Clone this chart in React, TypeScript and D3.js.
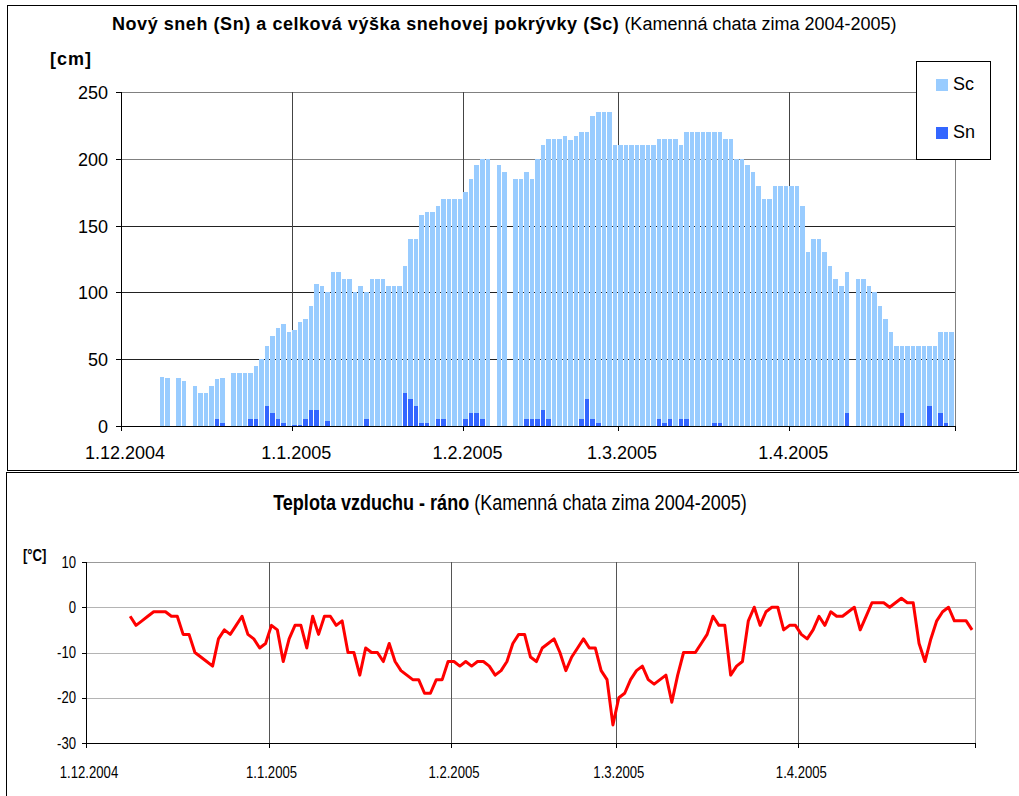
import React from 'react';
import * as d3 from 'd3';

// Kamenná chata, winter 2004-2005. One value per day, index 0 = 1st of the month.
// null = no observation that day.

// total snow depth Sc [cm]
const snowDepthDec = [null, null, null, null, null, null, null, 37, 36, null, 36, 34, null, 30, 25, 25, 30, 35, 36, null, 40, 40, 40, 40, 45, 50, 60, 67, 73, 76, 70];
const snowDepthJan = [72, 78, 80, 90, 106, 105, 100, 115, 115, 110, 110, 100, 105, 100, 110, 110, 110, 105, 105, 105, 120, 140, 140, 158, 160, 160, 165, 170, 170, 170, 170];
const snowDepthFeb = [175, 185, 195, 200, 200, null, 195, 190, null, 185, 185, 190, 185, 200, 210, 215, 215, 215, 217, 214, 217, 220, 220, 232, 235, 235, 235, 210];
const snowDepthMar = [210, 210, 210, 210, 210, 210, 210, 215, 215, 215, 215, 210, 220, 220, 220, 220, 220, 220, 220, 215, 215, 200, 200, 195, 190, 180, 170, 170, 180, 180, 180];
const snowDepthApr = [180, 180, 165, 130, 140, 140, 130, 120, 110, 105, 115, null, 110, 110, 105, 100, 90, 80, 70, 60, 60, 60, 60, 60, 60, 60, 60, 70, 70, 70];

// new snow Sn [cm]
const newSnowDec = [0, 0, 0, 0, 0, 0, 0, 0, 0, 0, 0, 0, 0, 0, 0, 0, 0, 5, 2, 0, 0, 0, 0, 5, 5, 0, 15, 10, 5, 2, 0];
const newSnowJan = [1, 1, 5, 12, 12, 0, 4, 0, 0, 0, 0, 0, 0, 5, 0, 0, 0, 0, 0, 0, 25, 20, 15, 2, 2, 0, 5, 5, 0, 0, 0];
const newSnowFeb = [5, 10, 10, 5, 0, 0, 0, 0, 0, 0, 0, 5, 5, 5, 12, 5, 0, 0, 0, 0, 0, 5, 20, 5, 2, 0, 0, 0];
const newSnowMar = [0, 0, 0, 0, 0, 0, 0, 5, 2, 5, 0, 5, 5, 0, 0, 0, 0, 2, 2, 0, 0, 0, 0, 0, 0, 0, 0, 0, 0, 0, 0];
const newSnowApr = [0, 0, 0, 0, 0, 0, 0, 0, 0, 0, 10, 0, 0, 0, 0, 0, 0, 0, 0, 0, 10, 0, 0, 0, 0, 15, 0, 10, 2, 0];

// morning air temperature [°C]
const tempDec = [null, null, null, null, null, null, null, -2, -4, -3, -2, -1, -1, -1, -2, -2, -6, -6, -10, -11, -12, -13, -7, -5, -6, -4, -2, -6, -7, -9, -8];
const tempJan = [-4, -5, -12, -7, -4, -4, -9, -2, -6, -2, -2, -4, -3, -10, -10, -15, -9, -10, -10, -12, -8, -12, -14, -15, -16, -16, -19, -19, -16, -16, -12];
const tempFeb = [-12, -13, -12, -13, -12, -12, -13, -15, -14, -12, -8, -6, -6, -11, -12, -9, -8, -7, -10, -14, -11, -9, -7, -9, -9, -14, -16, -26];
const tempMar = [-20, -19, -16, -14, -13, -16, -17, -16, -15, -21, -15, -10, -10, -10, -8, -6, -2, -4, -4, -15, -13, -12, -3, 0, -4, -1, 0, 0, -5, -4, -4];
const tempApr = [-6, -7, -5, -2, -4, -1, -2, -2, -1, 0, -5, -2, 1, 1, 1, 0, 1, 2, 1, 1, -8, -12, -7, -3, -1, 0, -3, -3, -3, -5];

const seriesNames = ['Sc', 'Sn'];
const colors = { Sc: '#99CCFF', Sn: '#3366FF', temp: '#FF0000' };

const start = new Date(Date.UTC(2004, 11, 1));
const end = new Date(Date.UTC(2005, 4, 1));
const days = d3.utcDay.range(start, end);
const monthTicks = d3.utcMonth.range(start, d3.utcDay.offset(end, 1));
const fmtDate = (d: Date) => `${d.getUTCDate()}.${d.getUTCMonth() + 1}.${d.getUTCFullYear()}`;

const snowDepth: (number | null)[] = [...snowDepthDec, ...snowDepthJan, ...snowDepthFeb, ...snowDepthMar, ...snowDepthApr];
const newSnow: number[] = [...newSnowDec, ...newSnowJan, ...newSnowFeb, ...newSnowMar, ...newSnowApr];
const temp: (number | null)[] = [...tempDec, ...tempJan, ...tempFeb, ...tempMar, ...tempApr];

const FONT = "'Liberation Sans', Arial, sans-serif";
const crisp = (v: number) => Math.round(v) + 0.5;

// ---------- top chart: snow ----------
const SnowChart = () => {
  const left = 121, right = 955, top = 92, bottom = 426;
  const x = d3.scaleUtc().domain([start, end]).range([left, right]);
  const y = d3.scaleLinear().domain([0, 250]).range([bottom, top]);

  // bars start on the day boundary (covering the month gridline), 1px gap on the right
  const bar = (i: number, v: number, fill: string) => {
    const x0 = Math.round(x(days[i]));
    const x1 = Math.round(x(d3.utcDay.offset(days[i], 1))) - 1;
    const y0 = Math.round(y(v));
    return <rect key={`${fill}-${i}`} x={x0} y={y0} width={x1 - x0} height={Math.round(y(0)) - y0} fill={fill} shapeRendering="crispEdges" />;
  };

  return (
    <g fontFamily={FONT}>
      <rect x={7.5} y={5.5} width={1009} height={465} fill="#fff" stroke="#000" />
      <text x={112} y={30} fontSize={18}>
        <tspan fontWeight="bold" letterSpacing={0.55}>Nový sneh (Sn) a celková výška snehovej pokrývky (Sc)</tspan>
        <tspan> (Kamenná chata zima 2004-2005)</tspan>
      </text>
      <text x={50} y={65} fontSize={18} fontWeight="bold" letterSpacing={1}>[cm]</text>

      {y.ticks(5).filter(t => t > 0).map(t => (
        <line key={t} x1={left} x2={right} y1={crisp(y(t))} y2={crisp(y(t))} stroke={t >= 200 ? '#808080' : '#222'} />
      ))}
      {monthTicks.slice(1, -1).map(d => (
        <line key={+d} x1={crisp(x(d))} x2={crisp(x(d))} y1={top} y2={bottom} stroke="#444" />
      ))}
      <line x1={crisp(right)} x2={crisp(right)} y1={top} y2={bottom} stroke="#808080" />

      {snowDepth.map((v, i) => (v != null ? bar(i, v, colors.Sc) : null))}
      {newSnow.map((v, i) => (v > 0 ? bar(i, v, colors.Sn) : null))}

      <line x1={crisp(left)} x2={crisp(left)} y1={top} y2={bottom} stroke="#000" />
      <line x1={left} x2={right + 1} y1={crisp(bottom)} y2={crisp(bottom)} stroke="#000" />
      {y.ticks(5).map(t => (
        <g key={t}>
          <line x1={left - 5} x2={left} y1={crisp(y(t))} y2={crisp(y(t))} stroke="#000" />
          <text x={108} y={y(t) + 7} fontSize={18} textAnchor="end">{t}</text>
        </g>
      ))}
      {monthTicks.map((d, i) => (
        <g key={+d}>
          <line x1={crisp(x(d))} x2={crisp(x(d))} y1={bottom} y2={bottom + 5} stroke="#000" />
          {i < monthTicks.length - 1 && (
            <text x={x(d) + 4} y={459} fontSize={18} textAnchor="middle">{fmtDate(d)}</text>
          )}
        </g>
      ))}

      <rect x={916.5} y={61.5} width={74} height={98} fill="#fff" stroke="#000" />
      {seriesNames.map((s, i) => (
        <g key={s}>
          <rect x={936} y={79 + i * 48} width={12} height={12} fill={colors[s as 'Sc' | 'Sn']} />
          <text x={953} y={90 + i * 48} fontSize={18}>{s}</text>
        </g>
      ))}
    </g>
  );
};

// ---------- bottom chart: temperature ----------
const narrow = (x: number, y: number) => `translate(${x},${y}) scale(0.82,1)`;

const TempChart = () => {
  const left = 86, right = 975, top = 562, bottom = 743;
  const x = d3.scaleUtc().domain([start, end]).range([left, right]);
  const y = d3.scaleLinear().domain([-30, 10]).range([bottom, top]);

  const line = d3.line<number | null>()
    .defined(v => v != null)
    .x((_, i) => x(d3.utcHour.offset(days[i], 12)))
    .y(v => y(v as number));

  return (
    <g fontFamily={FONT}>
      <line x1={6.5} x2={6.5} y1={472} y2={796} stroke="#000" />
      <line x1={6} x2={1019} y1={472.5} y2={472.5} stroke="#000" />

      <text transform={narrow(510, 510)} fontSize={22} textAnchor="middle">
        <tspan fontWeight="bold">Teplota vzduchu - ráno</tspan>
        <tspan> (Kamenná chata zima 2004-2005)</tspan>
      </text>
      <text transform={narrow(23, 561)} fontSize={16} fontWeight="bold">[°C]</text>

      {y.ticks(4).filter(t => t > -30).map(t => (
        <line key={t} x1={left} x2={right} y1={crisp(y(t))} y2={crisp(y(t))} stroke={t === 10 ? '#999' : '#b4b4b4'} />
      ))}
      {monthTicks.slice(1, -1).map(d => (
        <line key={+d} x1={crisp(x(d))} x2={crisp(x(d))} y1={top} y2={bottom} stroke="#555" />
      ))}
      <line x1={crisp(right)} x2={crisp(right)} y1={top} y2={bottom} stroke="#999" />

      <path d={line(temp) || ''} fill="none" stroke={colors.temp} strokeWidth={3} strokeLinejoin="round" />

      <line x1={crisp(left)} x2={crisp(left)} y1={top} y2={bottom} stroke="#000" />
      <line x1={left} x2={right + 1} y1={crisp(bottom)} y2={crisp(bottom)} stroke="#000" />
      {y.ticks(4).map(t => (
        <g key={t}>
          <line x1={left - 4} x2={left} y1={crisp(y(t))} y2={crisp(y(t))} stroke="#000" />
          <text transform={narrow(76, y(t) + 5.5)} fontSize={16} textAnchor="end">{t}</text>
        </g>
      ))}
      {monthTicks.map((d, i) => (
        <g key={+d}>
          <line x1={crisp(x(d))} x2={crisp(x(d))} y1={bottom} y2={bottom + 5} stroke="#000" />
          {i < monthTicks.length - 1 && (
            <text transform={narrow(x(d) + 3, 778)} fontSize={16} textAnchor="middle">{fmtDate(d)}</text>
          )}
        </g>
      ))}
    </g>
  );
};

export default function App() {
  return (
    <div style={{ position: 'absolute', left: 0, top: 0 }}>
      <svg width={1019} height={796} style={{ display: 'block', background: '#fff' }}>
        <SnowChart />
        <TempChart />
      </svg>
    </div>
  );
}
